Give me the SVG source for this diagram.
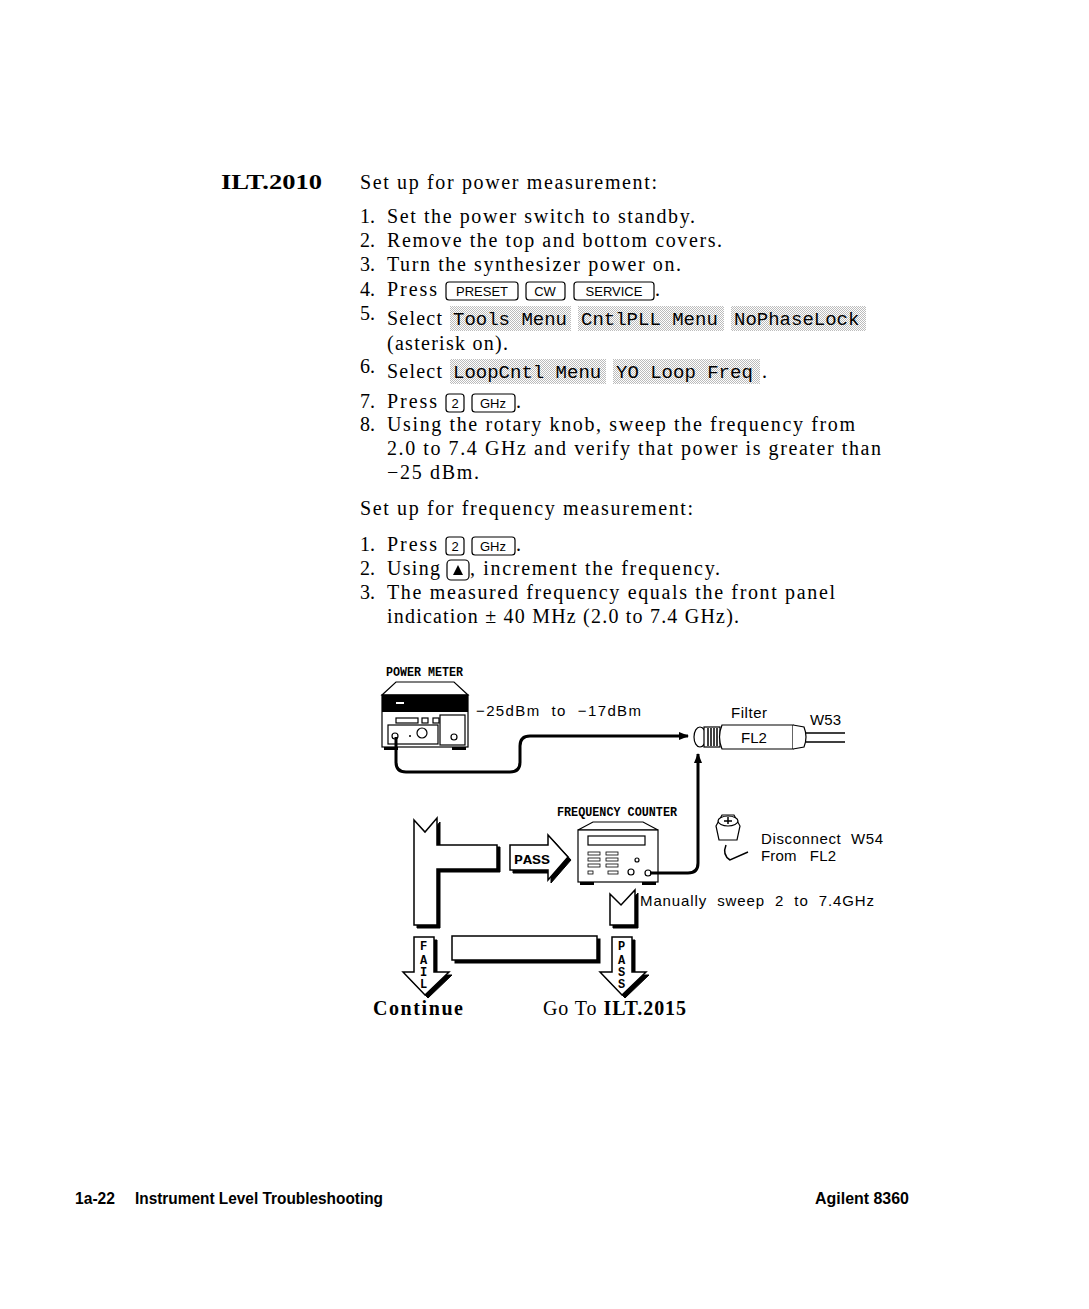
<svg xmlns="http://www.w3.org/2000/svg" width="1089" height="1309" viewBox="0 0 1089 1309">
<defs>
<pattern id="dots" width="2" height="2" patternUnits="userSpaceOnUse"><rect width="2" height="2" fill="#fff"/><rect width="1" height="1" fill="#bbb"/><rect x="1" y="1" width="1" height="1" fill="#bbb"/></pattern>
<marker id="ah" markerWidth="10" markerHeight="8" refX="9" refY="4" orient="auto" markerUnits="userSpaceOnUse"><path d="M0,0 L10,4 L0,8 Z" fill="#000"/></marker>
</defs>
<style>
.t{font-family:"Liberation Serif",serif;font-size:20px;fill:#000}
.b{font-weight:bold}
.m{font-family:"Liberation Mono",monospace;font-size:19px;fill:#000}
.k{font-family:"Liberation Sans",sans-serif;font-size:13px;fill:#000}
.s{font-family:"Liberation Sans",sans-serif;font-size:15px;fill:#000}
.lb{font-family:"Liberation Sans",sans-serif;font-size:11px;font-weight:bold;fill:#000}
.hd{font-family:"Liberation Mono",monospace;font-size:12px;font-weight:bold;fill:#000}
.key{fill:#fff;stroke:#000;stroke-width:1.2}
.sk{fill:url(#dots)}
.ln{fill:none;stroke:#000;stroke-width:1.5}
.cab{fill:none;stroke:#000;stroke-width:3}
.f{font-family:"Liberation Sans Narrow","Liberation Sans",sans-serif;font-size:17px;font-weight:bold;fill:#000}
</style>
<rect width="1089" height="1309" fill="#fff"/>
<g id="text">
<text x="221" y="189" class="t b" font-size="22" textLength="101" lengthAdjust="spacingAndGlyphs">ILT.2010</text>
<text x="360" y="189" class="t" textLength="297">Set up for power measurement:</text>
<text x="360" y="223" class="t">1.</text><text x="387" y="223" class="t" textLength="308">Set the power switch to standby.</text>
<text x="360" y="247" class="t">2.</text><text x="387" y="247" class="t" textLength="335">Remove the top and bottom covers.</text>
<text x="360" y="271" class="t">3.</text><text x="387" y="271" class="t" textLength="294">Turn the synthesizer power on.</text>
<text x="360" y="296" class="t">4.</text><text x="387" y="296" class="t" textLength="50">Press</text>
<rect x="446" y="282" width="72" height="18" rx="3" class="key"/><text x="482" y="296" class="k" text-anchor="middle">PRESET</text>
<rect x="526" y="282" width="39" height="18" rx="3" class="key"/><text x="545" y="296" class="k" text-anchor="middle">CW</text>
<rect x="574" y="282" width="80" height="18" rx="3" class="key"/><text x="614" y="296" class="k" text-anchor="middle">SERVICE</text>
<text x="655" y="296" class="t">.</text>
<text x="360" y="320" class="t">5.</text><text x="387" y="325" class="t" textLength="55">Select</text>
<rect x="450" y="306" width="121" height="25" class="sk"/><text x="453" y="325" class="m" xml:space="preserve">Tools Menu</text>
<rect x="578" y="306" width="146" height="25" class="sk"/><text x="581" y="325" class="m" xml:space="preserve">CntlPLL Menu</text>
<rect x="731" y="306" width="135" height="25" class="sk"/><text x="734" y="325" class="m">NoPhaseLock</text>
<text x="387" y="350" class="t" textLength="121">(asterisk on).</text>
<text x="360" y="373" class="t">6.</text><text x="387" y="378" class="t" textLength="55">Select</text>
<rect x="450" y="359" width="156" height="25" class="sk"/><text x="453" y="378" class="m" xml:space="preserve">LoopCntl Menu</text>
<rect x="613" y="359" width="147" height="25" class="sk"/><text x="616" y="378" class="m" xml:space="preserve">YO Loop Freq</text>
<text x="762" y="378" class="t">.</text>
<text x="360" y="408" class="t">7.</text><text x="387" y="408" class="t" textLength="50">Press</text>
<rect x="446" y="394" width="18" height="18" rx="3" class="key"/><text x="455" y="408" class="k" text-anchor="middle">2</text>
<rect x="472" y="394" width="43" height="18" rx="3" class="key"/><text x="493" y="408" class="k" text-anchor="middle">GHz</text>
<text x="516" y="408" class="t">.</text>
<text x="360" y="431" class="t">8.</text><text x="387" y="431" class="t" textLength="468">Using the rotary knob, sweep the frequency from</text>
<text x="387" y="455" class="t" textLength="494">2.0 to 7.4 GHz and verify that power is greater than</text>
<text x="387" y="479" class="t" textLength="92">−25 dBm.</text>
<text x="360" y="515" class="t" textLength="333">Set up for frequency measurement:</text>
<text x="360" y="551" class="t">1.</text><text x="387" y="551" class="t" textLength="50">Press</text>
<rect x="446" y="537" width="18" height="18" rx="3" class="key"/><text x="455" y="551" class="k" text-anchor="middle">2</text>
<rect x="472" y="537" width="43" height="18" rx="3" class="key"/><text x="493" y="551" class="k" text-anchor="middle">GHz</text>
<text x="516" y="551" class="t">.</text>
<text x="360" y="575" class="t">2.</text><text x="387" y="575" class="t" textLength="53">Using</text>
<rect x="447" y="560" width="22" height="20" rx="4" class="key" stroke-width="2"/><path d="M453,575 L458,565 L463,575 Z" fill="#000"/>
<text x="470" y="575" class="t" textLength="250">, increment the frequency.</text>
<text x="360" y="599" class="t">3.</text><text x="387" y="599" class="t" textLength="448">The measured frequency equals the front panel</text>
<text x="387" y="623" class="t" textLength="352">indication ± 40 MHz (2.0 to 7.4 GHz).</text>
</g>
<g id="power-meter">
<text x="386" y="676" class="hd" textLength="77" lengthAdjust="spacingAndGlyphs">POWER METER</text>
<path d="M396,682 L454,682 L468,695 L382,695 Z" class="key" stroke-width="1.5"/>
<rect x="382" y="695" width="86" height="52" class="key" stroke-width="2"/>
<rect x="382" y="695" width="86" height="17" fill="#000"/>
<rect x="396" y="702" width="8" height="2" fill="#fff"/>
<rect x="396" y="718" width="22" height="5" class="key" stroke-width="1"/>
<rect x="422" y="718" width="6" height="5" class="key" stroke-width="1"/>
<rect x="433" y="718" width="6" height="5" class="key" stroke-width="1"/>
<rect x="388" y="725" width="50" height="19" class="key" stroke-width="1"/>
<rect x="440" y="715" width="25" height="30" class="key" stroke-width="1"/>
<circle cx="395" cy="736" r="3" class="key"/><circle cx="422" cy="733" r="5" class="key"/><circle cx="410" cy="736" r="1" fill="#000"/>
<circle cx="454" cy="737" r="3" class="key"/>
<rect x="384" y="747" width="14" height="3" fill="#000"/><rect x="452" y="747" width="14" height="3" fill="#000"/>
<text x="476" y="716" class="s" textLength="165" xml:space="preserve">−25dBm  to  −17dBm</text>
</g>
<g id="filter">
<text x="731" y="718" class="s" textLength="36">Filter</text>
<text x="810" y="725" class="s" textLength="31">W53</text>
<ellipse cx="700" cy="737" rx="6" ry="10" class="key" stroke-width="2"/>
<rect x="704" y="727" width="16" height="20" class="key" stroke-width="1.5"/>
<path d="M708,728 V746 M711,728 V746 M714,728 V746 M717,728 V746" class="ln" stroke-width="1"/>
<path d="M722,725 H793 V749 H722 Q717,737 722,725 Z" class="key" stroke-width="1.5"/>
<text x="741" y="743" class="s">FL2</text>
<path d="M793,725 L804,727 Q808,737 804,747 L793,749" class="key" stroke-width="1.5"/>
<path d="M806,733 H845 M806,742 H845" class="ln"/>
</g>
<g id="frequency-counter">
<text x="557" y="816" class="hd" textLength="120" lengthAdjust="spacingAndGlyphs">FREQUENCY COUNTER</text>
<path d="M593,822 L643,822 L658,830 L578,830 Z" class="key" stroke-width="1.5"/>
<rect x="578" y="830" width="80" height="52" class="key" stroke-width="2"/>
<rect x="588" y="836" width="57" height="9" class="key" stroke-width="1"/>
<g fill="none" stroke="#000" stroke-width="0.8">
<rect x="588" y="852" width="12" height="3"/><rect x="606" y="852" width="12" height="3"/>
<rect x="588" y="858" width="12" height="3"/><rect x="606" y="858" width="12" height="3"/>
<rect x="588" y="864" width="12" height="3"/><rect x="606" y="864" width="12" height="3"/>
<rect x="588" y="871" width="5" height="3"/><rect x="608" y="871" width="10" height="3"/>
</g>
<circle cx="637" cy="860" r="2" class="key" stroke-width="0.8"/>
<circle cx="631" cy="872" r="3" class="key" stroke-width="0.8"/>
<circle cx="648" cy="873" r="3" class="key" stroke-width="1.2"/>
<rect x="580" y="882" width="14" height="3" fill="#000"/><rect x="642" y="882" width="14" height="3" fill="#000"/>
</g>
<g id="connector-note">
<path d="M716,826 L722,815 L734,815 L740,826 L737,840 L719,840 Z" class="key" stroke-width="1.5"/>
<ellipse cx="728" cy="821" rx="10" ry="5" class="key" stroke-width="1"/>
<path d="M728,817 V824 M724,821 H732" class="ln" stroke-width="1"/>
<path d="M726,845 Q722,855 730,860 L748,852" class="ln"/>
<text x="761" y="844" class="s" textLength="122" xml:space="preserve">Disconnect  W54</text>
<text x="761" y="861" class="s" textLength="75" xml:space="preserve">From   FL2</text>
<text x="640" y="906" class="s" textLength="234" xml:space="preserve">Manually  sweep  2  to  7.4GHz</text>
</g>
<g id="connectors">
<path d="M396,737 V762 Q396,772 406,772 H510 Q520,772 520,762 V746 Q520,736 530,736 H688" class="cab" marker-end="url(#ah)"/>
<path d="M650,873 H688 Q698,873 698,863 V754" class="cab" marker-end="url(#ah)"/>
</g>
<g id="flow" stroke="#000" stroke-linejoin="miter">
<path d="M417,824 L428,836 L440,822 L440,847 L500,847 L500,872 L440,872 L440,928 L417,928 Z" fill="#000"/>
<path d="M414,820 L425,832 L437,818 L437,845 L497,845 L497,869 L437,869 L437,925 L414,925 Z" fill="#fff" stroke-width="1.5"/>
<path d="M513,848 L551,848 L551,838 L571,860 L551,883 L551,873 L513,873 Z" fill="#000"/>
<path d="M510,845 L548,845 L548,835 L568,857 L548,880 L548,870 L510,870 Z" fill="#fff" stroke-width="1.5"/>
<text x="514" y="864" class="hd" stroke="none" textLength="36" lengthAdjust="spacingAndGlyphs">PASS</text>
<path d="M613,897 L624,908 L638,893 L638,928 L613,928 Z" fill="#000"/>
<path d="M610,894 L621,905 L635,890 L635,925 L610,925 Z" fill="#fff" stroke-width="1.5"/>
<rect x="455" y="939" width="145" height="24" fill="#000"/>
<rect x="452" y="936" width="145" height="24" fill="#fff" stroke-width="1.5"/>
<path d="M417,940 L437,940 L437,975 L452,975 L428,998 L406,975 L417,975 Z" fill="#000"/>
<path d="M414,937 L434,937 L434,972 L449,972 L425,995 L403,972 L414,972 Z" fill="#fff" stroke-width="1.5"/>
<path d="M615,940 L635,940 L635,975 L649,975 L625,998 L603,975 L615,975 Z" fill="#000"/>
<path d="M612,937 L632,937 L632,972 L646,972 L622,995 L600,972 L612,972 Z" fill="#fff" stroke-width="1.5"/>
<g stroke="none">
<text x="420" y="950" class="hd">F</text><text x="420" y="964" class="hd">A</text><text x="420" y="976" class="hd">I</text><text x="420" y="988" class="hd">L</text>
<text x="618" y="950" class="hd">P</text><text x="618" y="964" class="hd">A</text><text x="618" y="976" class="hd">S</text><text x="618" y="988" class="hd">S</text>
</g>
<text x="373" y="1015" class="t b" stroke="none" textLength="90">Continue</text>
<text x="543" y="1015" class="t" stroke="none" textLength="143">Go To <tspan class="b">ILT.2015</tspan></text>
</g>
<g id="footer">
<text x="75" y="1204" class="f" textLength="40" lengthAdjust="spacingAndGlyphs">1a-22</text>
<text x="135" y="1204" class="f" textLength="248" lengthAdjust="spacingAndGlyphs">Instrument Level Troubleshooting</text>
<text x="815" y="1204" class="f" textLength="94" lengthAdjust="spacingAndGlyphs">Agilent 8360</text>
</g>
</svg>
